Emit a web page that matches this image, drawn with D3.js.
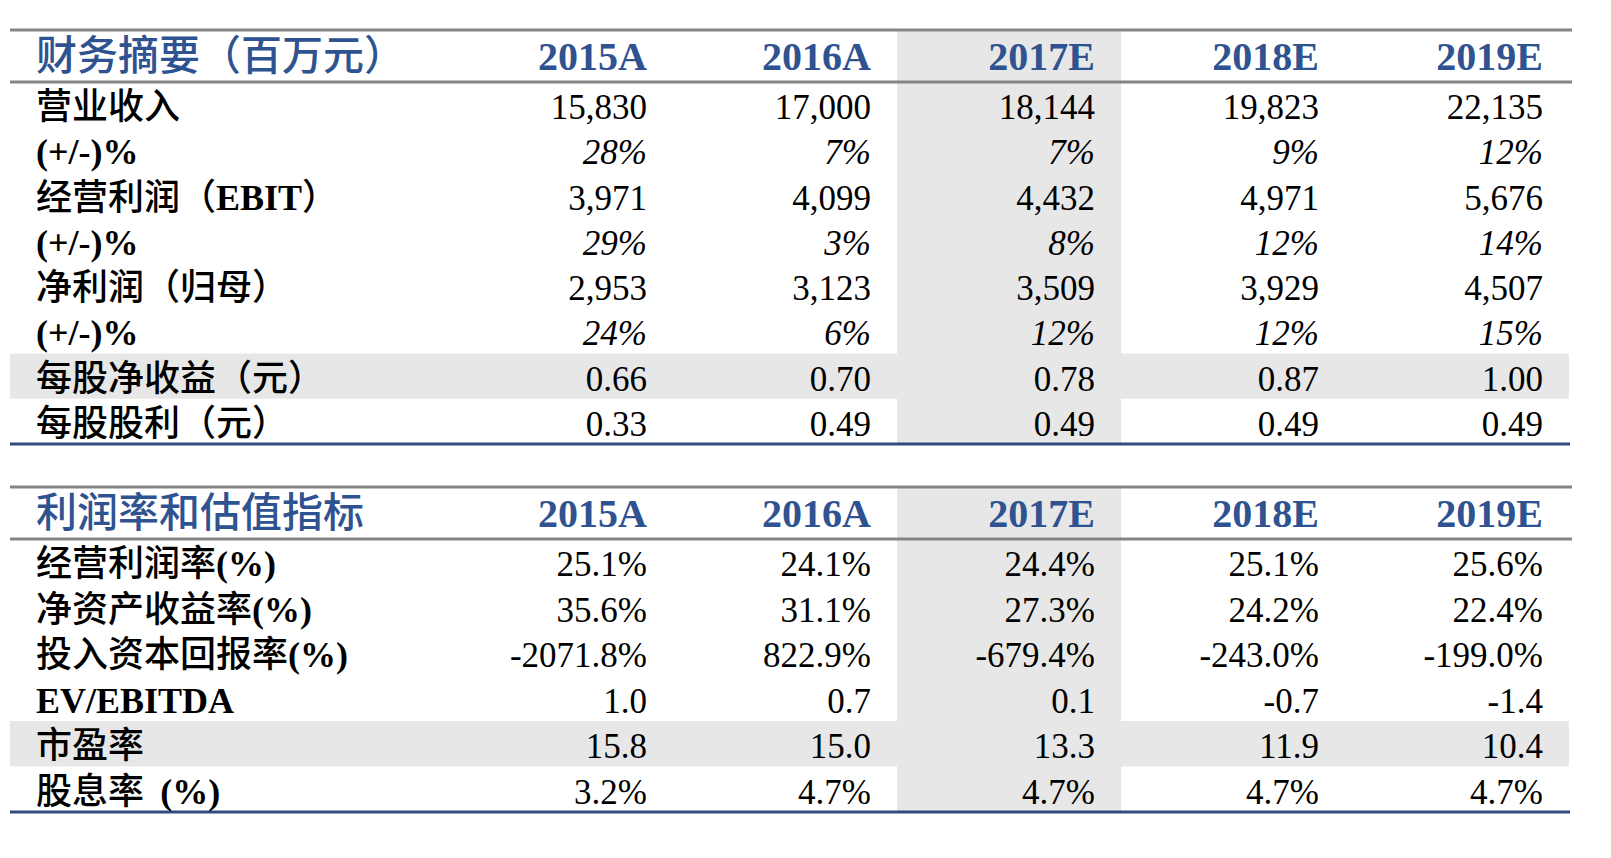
<!DOCTYPE html>
<html>
<head>
<meta charset="utf-8">
<script src="https://cdn.jsdelivr.net/npm/d3@7"></script>
<style>
  html, body { margin: 0; padding: 0; background: #ffffff; }
  svg { display: block; }
</style>
</head>
<body>
<svg id="chart" width="1611" height="858"></svg>
<script>
// ---------- DATA ----------
const years = ["2015A", "2016A", "2017E", "2018E", "2019E"];
const highlightYear = "2017E";

// Table 1: 财务摘要（百万元）
const table1Title = "财务摘要（百万元）";
const table1Rows = ["营业收入", "(+/-)%_1", "经营利润（EBIT）", "(+/-)%_2", "净利润（归母）", "(+/-)%_3", "每股净收益（元）", "每股股利（元）"];
const revenue      = [15830, 17000, 18144, 19823, 22135];
const revenueGrowth = [28, 7, 7, 9, 12];
const ebit         = [3971, 4099, 4432, 4971, 5676];
const ebitGrowth   = [29, 3, 8, 12, 14];
const netProfit    = [2953, 3123, 3509, 3929, 4507];
const netGrowth    = [24, 6, 12, 12, 15];
const eps          = [0.66, 0.70, 0.78, 0.87, 1.00];
const dps          = [0.33, 0.49, 0.49, 0.49, 0.49];
const table1Shaded = "每股净收益（元）";

// Table 2: 利润率和估值指标
const table2Title = "利润率和估值指标";
const table2Rows = ["经营利润率(%)", "净资产收益率(%)", "投入资本回报率(%)", "EV/EBITDA", "市盈率", "股息率  (%)"];
const ebitMargin   = [25.1, 24.1, 24.4, 25.1, 25.6];
const roe          = [35.6, 31.1, 27.3, 24.2, 22.4];
const roic         = [-2071.8, 822.9, -679.4, -243.0, -199.0];
const evEbitda     = [1.0, 0.7, 0.1, -0.7, -1.4];
const pe           = [15.8, 15.0, 13.3, 11.9, 10.4];
const divYield     = [3.2, 4.7, 4.7, 4.7, 4.7];
const table2Shaded = "市盈率";

// ---------- STYLE ----------
const CJK = "'Noto Sans CJK SC', 'Noto Sans', sans-serif";
const SERIF = "'Liberation Serif', 'Times New Roman', serif";
const BLUE = "#2f5391";
const NAVY = "#2e4c7c";
const GREYLINE = "#858585";
const SHADE = "#e7e7e7";

const loc = d3.formatLocale({ decimal: ".", thousands: ",", grouping: [3], currency: ["", ""], minus: "-" });
const fInt = loc.format(",");
const fPct0 = d => loc.format("d")(d) + "%";
const fDec2 = loc.format(".2f");
const fPct1 = d => loc.format(".1f")(d) + "%";
const fDec1 = loc.format(".1f");

const table1Values = [revenue, revenueGrowth, ebit, ebitGrowth, netProfit, netGrowth, eps, dps];
const table1Fmt = [fInt, fPct0, fInt, fPct0, fInt, fPct0, fDec2, fDec2];
const table1Italic = [false, true, false, true, false, true, false, false];

const table2Values = [ebitMargin, roe, roic, evEbitda, pe, divYield];
const table2Fmt = [fPct1, fPct1, fPct1, fDec1, fDec1, fPct1];
const table2Italic = [false, false, false, false, false, false];

const svg = d3.select("#chart");

const x = d3.scaleBand().domain(years).range([449, 1569]).paddingInner(0).paddingOuter(0);
const leftX = 10, rightX = 1572;
const labelX = 36;
const cellPadRight = 26;

// label parts: mix CJK and bold serif
function labelParts(key) {
  const k = key.replace(/_\d+$/, "");
  const parts = [];
  const re = /(\(\+\/-\)%|\(%\)|EV\/EBITDA|EBIT)/g;
  let last = 0, m;
  while ((m = re.exec(k)) !== null) {
    if (m.index > last) parts.push({ t: k.slice(last, m.index), serif: false });
    parts.push({ t: m[0], serif: true });
    last = m.index + m[0].length;
  }
  if (last < k.length) parts.push({ t: k.slice(last), serif: false });
  return parts;
}

function drawTable(cfg) {
  const g = svg.append("g");
  const y = d3.scaleBand().domain(cfg.rows).range([cfg.head, cfg.bottom]);

  // highlighted column
  g.append("rect")
    .attr("x", x(highlightYear)).attr("width", x.bandwidth())
    .attr("y", cfg.top).attr("height", cfg.bottom - cfg.top)
    .attr("fill", SHADE);
  // shaded row
  g.append("rect")
    .attr("x", leftX).attr("width", x.range()[1] - leftX)
    .attr("y", y(cfg.shaded)).attr("height", y.bandwidth())
    .attr("fill", SHADE);

  // lines
  g.append("line").attr("x1", leftX).attr("x2", rightX).attr("y1", cfg.top).attr("y2", cfg.top)
    .attr("stroke", GREYLINE).attr("stroke-width", 3);
  g.append("line").attr("x1", leftX).attr("x2", rightX).attr("y1", cfg.head).attr("y2", cfg.head)
    .attr("stroke", GREYLINE).attr("stroke-width", 3);
  g.append("line").attr("x1", leftX).attr("x2", rightX - 2).attr("y1", cfg.bottom).attr("y2", cfg.bottom)
    .attr("stroke", NAVY).attr("stroke-width", 3);

  // header
  const hb = cfg.top + 40;
  g.append("text").attr("x", labelX).attr("y", hb)
    .attr("font-family", CJK).attr("font-weight", 500).attr("font-size", 41).attr("fill", BLUE)
    .text(cfg.title);
  g.selectAll("text.yr").data(years).join("text")
    .attr("class", "yr")
    .attr("x", d => x(d) + x.bandwidth() - cellPadRight)
    .attr("y", hb)
    .attr("text-anchor", "end")
    .attr("font-family", SERIF).attr("font-weight", "bold").attr("font-size", 40)
    .attr("fill", BLUE)
    .text(d => d);

  // rows
  cfg.rows.forEach((r, i) => {
    const base = y(r) + 37;
    const t = g.append("text").attr("x", labelX).attr("y", base)
      .attr("font-size", 36).attr("fill", "#000").attr("xml:space", "preserve");
    labelParts(r).forEach(p => {
      t.append("tspan")
        .attr("font-family", p.serif ? SERIF : CJK)
        .attr("font-weight", p.serif ? "bold" : 500)
        .attr("font-size", p.serif ? 36 : 36)
        .text(p.t);
    });
    g.selectAll(null).data(cfg.values[i]).join("text")
      .attr("x", (d, j) => x(years[j]) + x.bandwidth() - cellPadRight)
      .attr("y", base)
      .attr("text-anchor", "end")
      .attr("font-family", SERIF)
      .attr("font-style", cfg.italic[i] ? "italic" : "normal")
      .attr("font-size", 35)
      .attr("fill", "#000")
      .text(d => cfg.fmt[i](d));
  });
}

drawTable({ top: 30, head: 82, bottom: 444, title: table1Title, rows: table1Rows,
  values: table1Values, fmt: table1Fmt, italic: table1Italic, shaded: table1Shaded });
drawTable({ top: 487, head: 539, bottom: 812, title: table2Title, rows: table2Rows,
  values: table2Values, fmt: table2Fmt, italic: table2Italic, shaded: table2Shaded });
</script>
</body>
</html>
